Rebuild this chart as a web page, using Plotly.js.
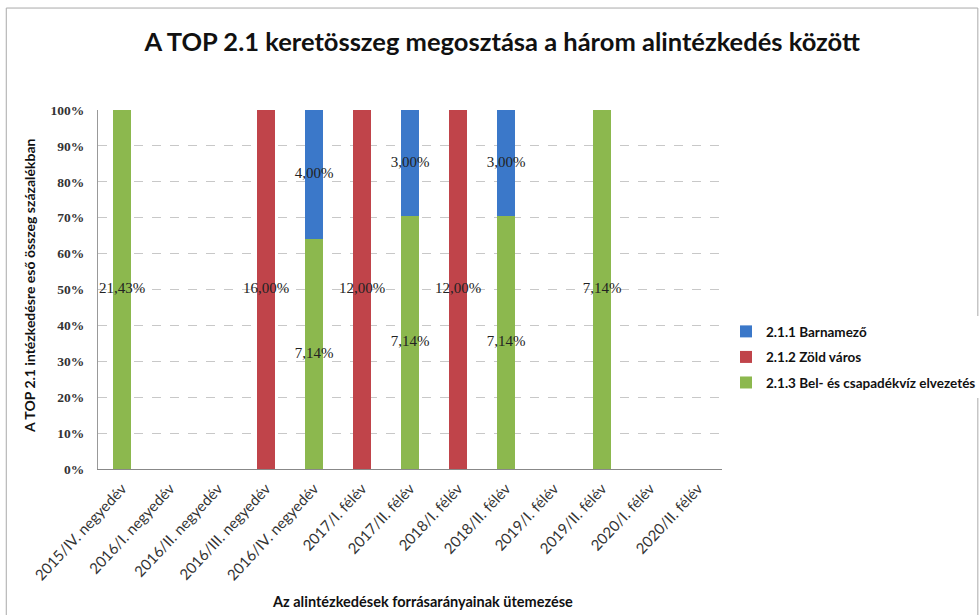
<!DOCTYPE html>
<html>
<head>
<meta charset="utf-8">
<script src="https://cdn.plot.ly/plotly-3.0.1.min.js"></script>
<style>html,body{margin:0;padding:0;background:#fff;}</style>
</head>
<body>
<div id="chart" style="width:979px;height:615px;"></div>
<script>
const categories = ["2015/IV. negyedév","2016/I. negyedév","2016/II. negyedév","2016/III. negyedév","2016/IV. negyedév","2017/I. félév","2017/II. félév","2018/I. félév","2018/II. félév","2019/I. félév","2019/II. félév","2020/I. félév","2020/II. félév"];
const barnamezo = [null,null,null,null,4.00,null,3.00,null,3.00,null,null,null,null];
const zoldVaros = [null,null,null,16.00,null,12.00,null,12.00,null,null,null,null,null];
const belViz    = [21.43,null,null,null,7.14,null,7.14,null,7.14,null,7.14,null,null];
const seriesNames = ["2.1.1 Barnamező","2.1.2 Zöld város","2.1.3 Bel- és csapadékvíz elvezetés"];
const colors = {blue:"#3B78C9", red:"#C0444A", green:"#8CB84E"};

// stacked bottom -> top: green, red, blue
const stack = [belViz, zoldVaros, barnamezo];
const totals = categories.map((c,i)=>stack.reduce((s,a)=>s+(a[i]||0),0));
const lblX=[], lblY=[], lblT=[];
categories.forEach((c,i)=>{
  let cum=0;
  stack.forEach(a=>{
    const v=a[i];
    if(v){
      const pct=v/totals[i]*100;
      lblX.push(c); lblY.push(cum+pct/2);
      lblT.push(v.toFixed(2).replace('.',',')+'%');
      cum+=pct;
    }
  });
});

const traces = [
  {type:'bar', name:seriesNames[2], legendgroup:'g3', legendrank:3, x:categories, y:belViz, marker:{color:colors.green}, width:0.38, hoverinfo:'none'},
  {type:'bar', name:seriesNames[1], legendgroup:'g2', legendrank:2, x:categories, y:zoldVaros, marker:{color:colors.red}, width:0.38, hoverinfo:'none'},
  {type:'bar', name:seriesNames[0], legendgroup:'g1', legendrank:1, x:categories, y:barnamezo, marker:{color:colors.blue}, width:0.38, hoverinfo:'none'},
  {type:'scatter', mode:'text', x:lblX, y:lblY, text:lblT, showlegend:false, hoverinfo:'none',
   textfont:{family:'Liberation Serif, serif', size:15, color:'#222'}}
];

const layout = {
  width:979, height:615,
  margin:{l:98, r:257, t:110, b:146},
  paper_bgcolor:'#fff', plot_bgcolor:'#fff',
  barmode:'stack', barnorm:'percent',
  showlegend:true,
  title:{text:'A TOP 2.1 keretösszeg megosztása a három alintézkedés között',
    x:0.513, xref:'container', xanchor:'center', y:0.932, yref:'container', yanchor:'middle',
    font:{family:'Lato, Open Sans, sans-serif', size:25.5, color:'#111', weight:'bold'}},
  xaxis:{type:'category', tickangle:-47, showgrid:false, showline:true, linecolor:'#888', linewidth:1,
    ticks:'outside', ticklen:4, tickcolor:'rgba(0,0,0,0)', automargin:false,
    tickfont:{family:'Lato, sans-serif', size:15, color:'#333'}, range:[-0.5,12.5]},
  yaxis:{range:[0,100], dtick:10, ticksuffix:'%', showgrid:true, gridcolor:'#c8c8c8', griddash:'dash', gridwidth:1,
    showline:true, linecolor:'#999', linewidth:1, ticks:'outside', ticklen:10, tickcolor:'rgba(0,0,0,0)', zeroline:false, automargin:false,
    tickfont:{family:'Liberation Serif, serif', size:13.5, color:'#333', weight:'bold'}},
  legend:{xref:'container', yref:'container', x:0.7416, xanchor:'left', y:0.486, yanchor:'top', traceorder:'grouped',
    tracegroupgap:5, font:{family:'Lato, sans-serif', size:13.5, color:'#111', weight:'bold'}, itemwidth:30},
  annotations:[
    {text:'Az alintézkedések forrásarányainak ütemezése', xref:'paper', yref:'paper', x:0.52, y:-0.37,
      showarrow:false, xanchor:'center', yanchor:'middle', font:{family:'Lato, sans-serif', size:14.5, color:'#111', weight:'bold'}},
    {text:'A TOP 2.1 intézkedésre eső összeg százalékban', xref:'paper', yref:'paper', x:-0.109, y:0.51, textangle:-90,
      showarrow:false, xanchor:'center', yanchor:'middle', font:{family:'Lato, sans-serif', size:14, color:'#111', weight:'bold'}}
  ],
  shapes:[
    {type:'rect', xref:'paper', yref:'paper', x0:-0.147, x1:1.41, y0:-0.41, y1:1.284, line:{color:'#aaa', width:1}, layer:'below'}
  ]
};
Plotly.newPlot('chart', traces, layout, {displayModeBar:false, staticPlot:true});
</script>
</body>
</html>
